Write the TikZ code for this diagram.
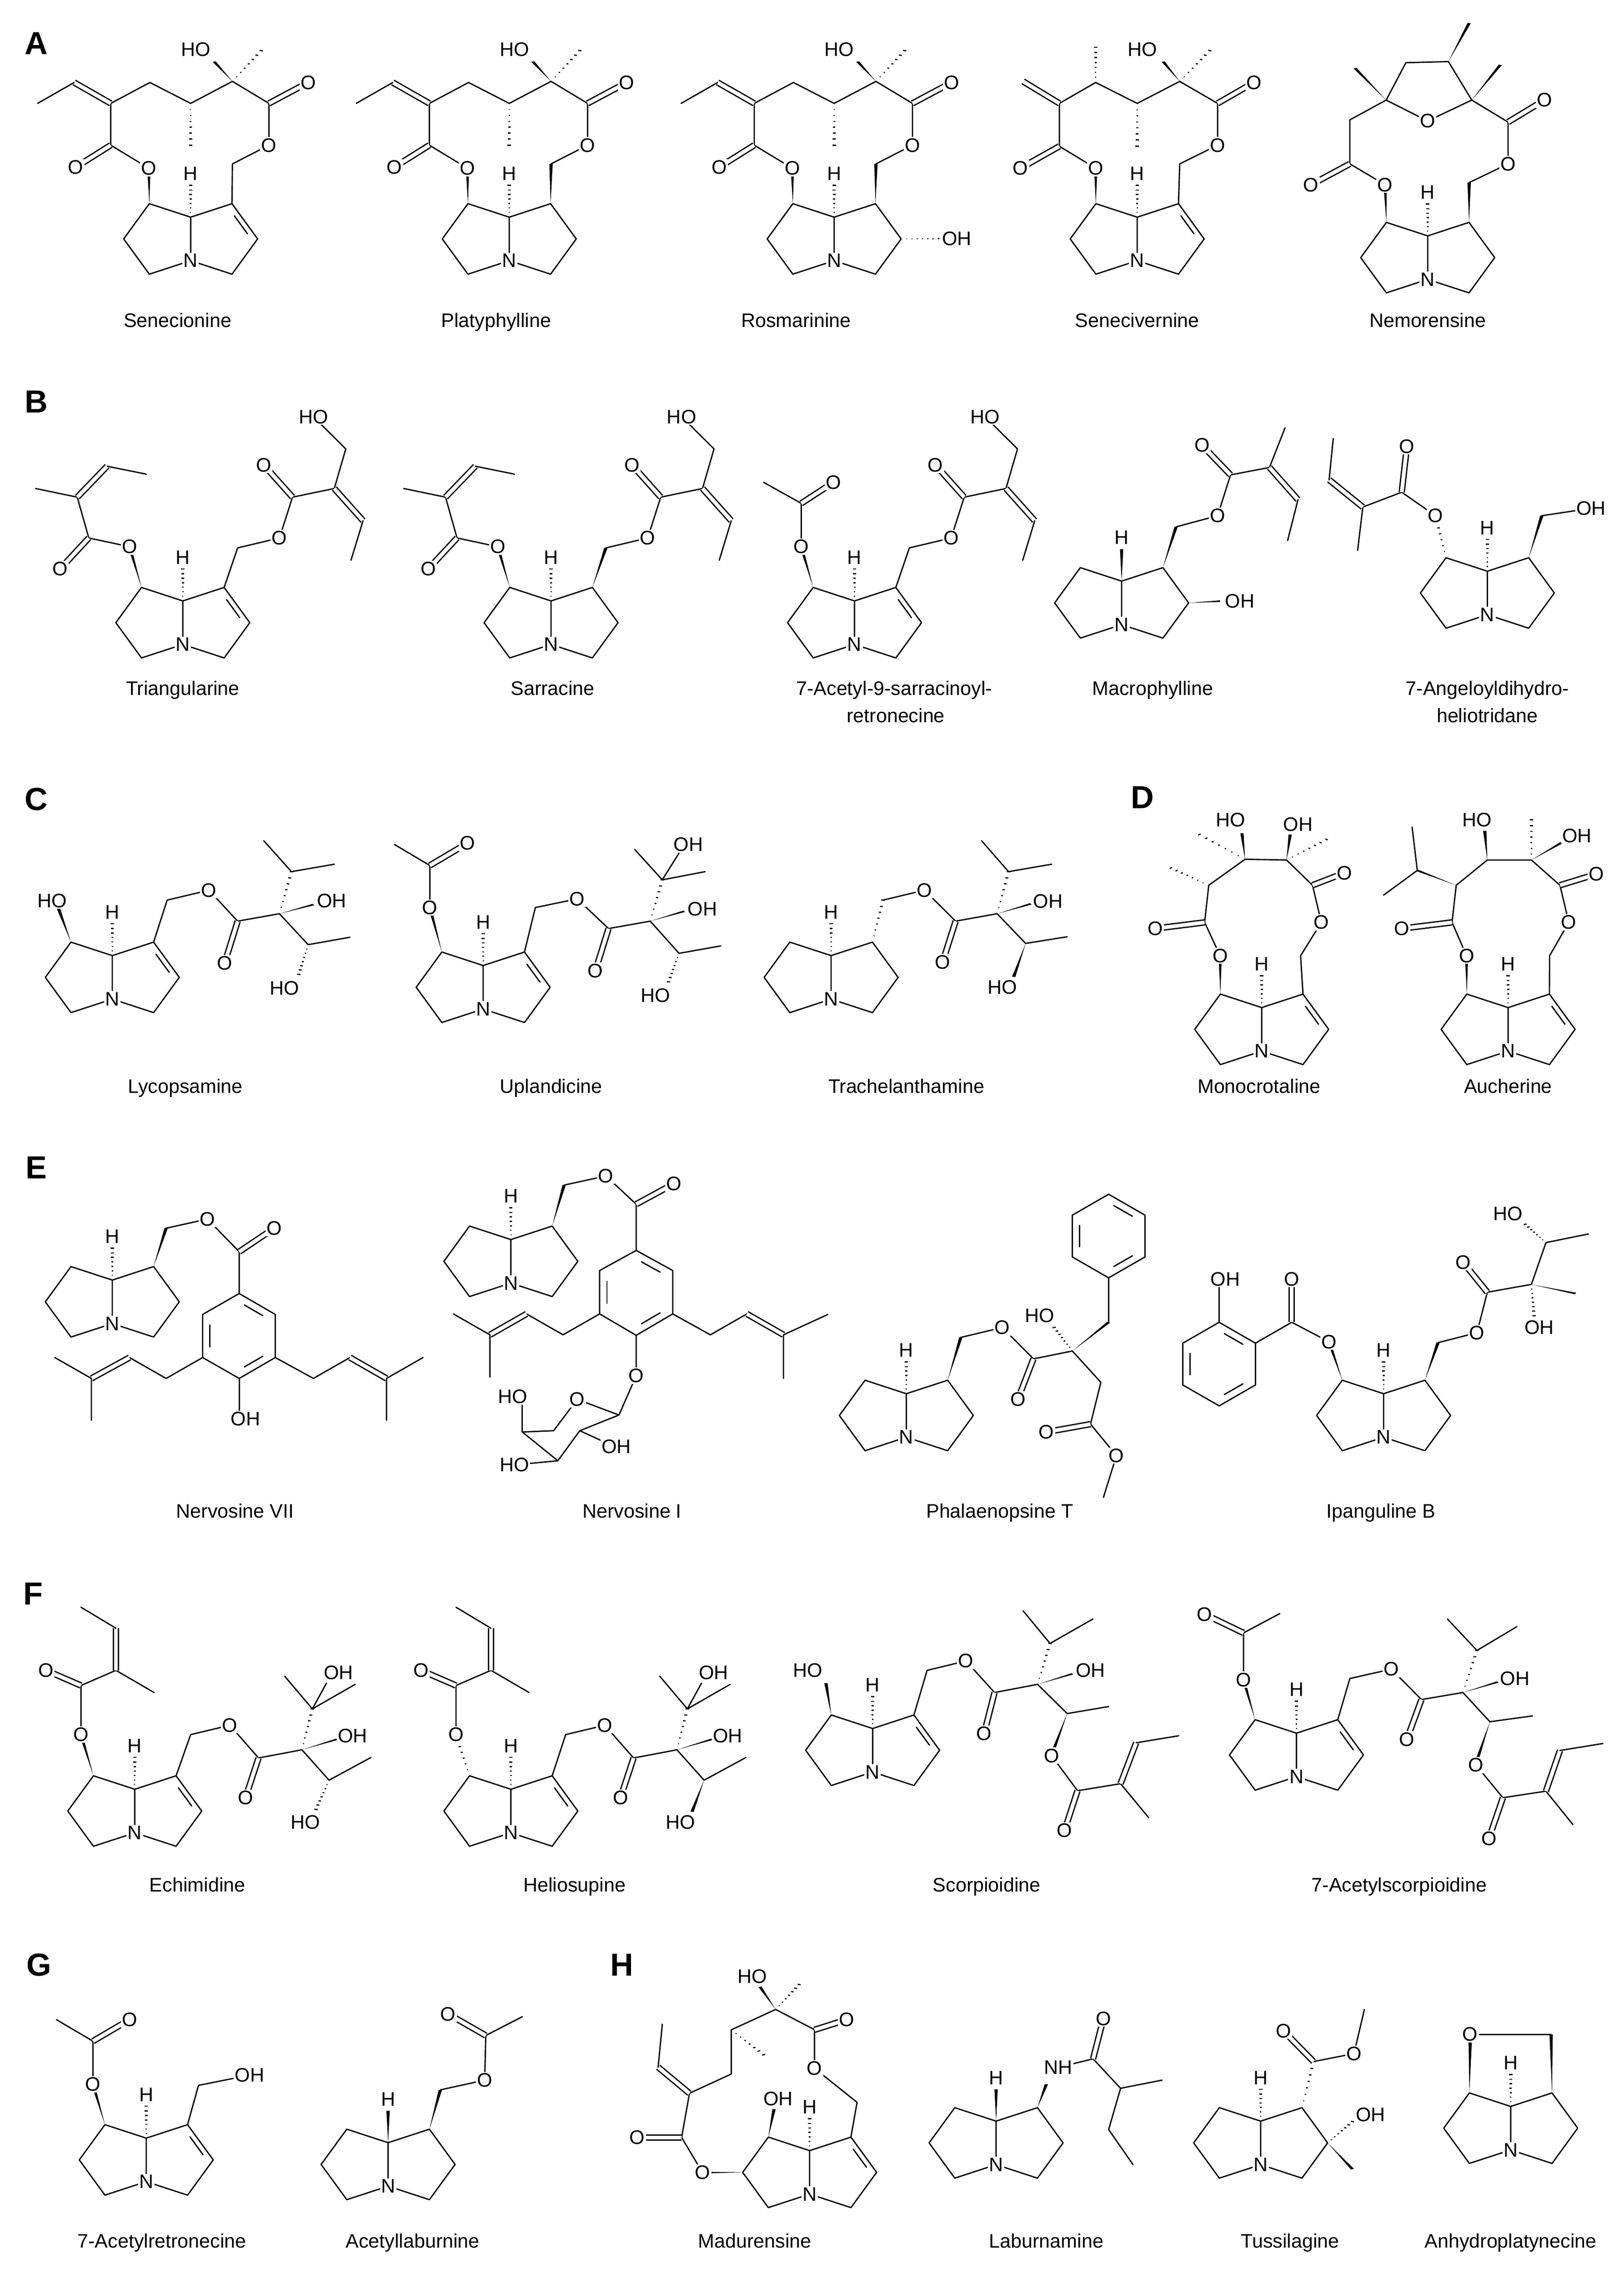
\documentclass[tikz,border=0pt]{standalone}
\usepackage{fontspec}
\setmainfont{Liberation Sans}
\usetikzlibrary{calc}
\tikzset{
 bond/.style={line width=0.9pt,line join=round,line cap=round},
 dbl/.style={line width=0.9pt,double,double distance=2.6pt},
 atom/.style={fill=white,inner sep=0.8pt,font=\fontsize{13.5}{13.5}\selectfont},
 lbl/.style={font=\fontsize{13.5}{16}\selectfont,align=center,text height=10pt,text depth=3pt},
 sec/.style={font=\fontsize{22}{22}\selectfont\bfseries}}
\newcommand\wdg[2]{\fill ($#1$) -- ($#2!3.2pt!90:#1$) -- ($#2!3.2pt!-90:#1$) -- cycle;}
\newcommand\hsh[2]{\foreach \hq [evaluate=\hq as \hw using 0.5+\hq*2.8] in {0.15,0.29,0.43,0.57,0.71,0.85,1}{\draw[line width=0.8pt] ($#1!\hq!#2!\hw pt!90:#1$) -- ($#1!\hq!#2!\hw pt!-90:#1$);}}
\newcommand\inr[3]{\draw[bond] ($#1!.18!#2!.2!#3$) -- ($#2!.18!#1!.2!#3$);}
\newcommand\core[3]{%
\begin{scope}[reset cm,shift={(#1)}]
\coordinate (cN) at (0,0);\coordinate (c8) at (0,-30);\coordinate (c7) at (-28.5,-39.3);\coordinate (c6) at (-46.2,-15);\coordinate (c5) at (-28.5,9.3);\coordinate (c1) at (28.5,-39.3);\coordinate (c2) at (46.2,-15);\coordinate (c3) at (28.5,9.3);\coordinate (cR) at (24,-15);\coordinate (cH) at (0,-52);\coordinate (cHl) at (0,-60);
\end{scope}
\draw[bond] (c8)--(c7)--(c6)--(c5)--(cN)--(c3)--(c2)--(c1)--(c8)--(cN);
\ifnum#2=1 \inr{(c1)}{(c2)}{(cR)}\fi
\ifnum#3=1 \hsh{(c8)}{(cH)}\node[atom] at (cHl){H};\fi
\ifnum#3=2 \wdg{(c8)}{(cH)}\node[atom] at (cHl){H};\fi
\node[atom] at (cN){N};}
\newcommand\senskel{%
\wdg{(c7)}{(285,765)}
\draw[bond] (285,765)--(212,660)--(212,470)--(287,375)--(365,470)--(445,370)--(515,470)--(515,660)--(445,745);
\draw[dbl] (212,660)--(145,760);
\draw[dbl] (212,470)--(142,375); \draw[bond] (142,375)--(72,470);
\hsh{(365,470)}{(365,660)}
\wdg{(445,370)}{(410,280)}
\hsh{(445,370)}{(500,230)}
\draw[dbl] (515,470)--(590,375);
\node[atom] at (285,765) {O}; \node[atom] at (145,760) {O}; \node[atom] at (590,375){O}; \node[atom] at (515,660){O}; \node[atom] at (375,225){HO};}
\newcommand\Bang{%
\draw[bond] (248,815)--(170,780)--(148,615)--(68,580); \draw[dbl] (170,780)--(115,905); \draw[dbl](148,615)--(205,490); \draw[bond](205,490)--(280,522);
\node[atom] at (248,815){O}; \node[atom] at (115,905){O};}
\newcommand\Bsar{%
\draw[bond] (455,820)--(535,780)--(560,615)--(640,580)--(662,420)--(600,290); \draw[dbl](560,615)--(505,485); \draw[dbl](640,580)--(695,710); \draw[bond](695,710)--(672,870);
\node[atom] at (535,780){O}; \node[atom] at (505,485){O}; \node[atom] at (600,290){HO};}
\begin{document}
\begin{tikzpicture}[x=1pt,y=-1pt]
\useasboundingbox[fill=white] (0,0) rectangle (1120,1568);
\node[sec] (sA) at (25,30){A};
\node[sec] (sB) at (25,277){B};
\node[sec] (sC) at (25,551){C};
\node[sec] (sD) at (788,550){D};
\node[sec] (sE) at (25,805){E};
\node[sec] (sF) at (23,1099){F};
\node[sec] (sG) at (27,1355){G};
\node[sec] (sH) at (429,1355){H};
% ---------- Z1
\begin{scope}[xscale=0.36027,yscale=0.15169]
\coordinate (n) at (365,1185); \core{n}{1}{1} \senskel \draw[bond] (445,745)--(c1);
\node[lbl] (l1) at (340,1465){Senecionine};
\begin{scope}[shift={(610,0)}]\coordinate (n) at (365,1185); \core{n}{0}{1} \senskel \wdg{(c1)}{(445,745)}\end{scope}
\node[lbl] (l2) at (950,1465){Platyphylline};
\begin{scope}[shift={(1232,0)}]\coordinate (n) at (365,1185); \core{n}{0}{1} \senskel \wdg{(c1)}{(445,745)} \hsh{(c2)}{(565,1085)} \node[atom] at (600,1085){OH};\end{scope}
\node[lbl] (l3) at (1524,1465){Rosmarinine};
\end{scope}
% ---------- Z2
\begin{scope}[shift={(558.96,0)},xscale=0.35781,yscale=0.15169]
\coordinate (n) at (630,1185); \core{n}{1}{1}
\wdg{(c7)}{(550,765)}
\draw[bond] (550,765)--(480,665)--(480,470)--(550,375)--(630,470)--(712,370)--(785,470)--(785,660)--(712,745)--(c1);
\draw[dbl] (480,665)--(405,765); \draw[dbl] (480,470)--(410,370);
\hsh{(550,375)}{(550,215)} \hsh{(630,470)}{(630,665)}
\wdg{(712,370)}{(680,280)} \hsh{(712,370)}{(770,230)}
\draw[dbl] (785,470)--(855,375);
\node[atom] at (550,765){O}; \node[atom] at (405,765){O}; \node[atom] at (640,225){HO}; \node[atom] at (855,375){O}; \node[atom] at (785,660){O};
\node[lbl] (l4) at (630,1465){Senecivernine};
\coordinate (n) at (1190,1270); \core{n}{0}{1}
\wdg{(c7)}{(1108,840)}
\draw[bond] (1108,840)--(1040,745)--(1040,545)--(1110,455)--(1148,285)--(1230,280)--(1275,455)--(1345,555)--(1345,745)--(1270,830);
\draw[bond] (1110,455)--(1190,550)--(1275,455);
\draw[dbl] (1040,745)--(965,840); \draw[dbl] (1345,555)--(1415,455);
\wdg{(1110,455)}{(1050,310)} \wdg{(1230,280)}{(1270,105)} \wdg{(1275,455)}{(1330,295)}
\wdg{(c1)}{(1270,830)}
\node[atom] at (1108,840){O}; \node[atom] at (965,840){O}; \node[atom] at (1190,550){O}; \node[atom] at (1415,455){O}; \node[atom] at (1345,745){O};
\node[lbl] (l5) at (1190,1465){Nemorensine};
\end{scope}
% ---------- Z3
\begin{scope}[shift={(0,237.86)},xscale=0.36027,yscale=0.17066]
\coordinate (n) at (350,1210); \core{n}{1}{1}
\wdg{(c7)}{(248,815)} \Bang \draw[bond] (c1)--(455,820); \Bsar
\node[lbl] (l6) at (350,1395){Triangularine};
\begin{scope}[shift={(705,0)}]\coordinate (n) at (350,1210); \core{n}{0}{1}
\wdg{(c7)}{(248,815)} \Bang \wdg{(c1)}{(455,820)} \Bsar\end{scope}
\node[lbl] (l7) at (1058,1395){Sarracine};
\begin{scope}[shift={(1286,0)}]\coordinate (n) at (350,1210); \core{n}{1}{1}
\wdg{(c7)}{(248,815)} \draw[bond] (248,815)--(248,640)--(176,555); \draw[dbl] (248,640)--(310,555);
\node[atom] at (248,815){O}; \node[atom] at (310,555){O};
\draw[bond] (c1)--(455,820); \Bsar\end{scope}
\node[lbl] (l8) at (1712,1395){7-Acetyl-9-sarracinoyl-};
\node[lbl] (l8b) at (1715,1505){retronecine};
\end{scope}
% ---------- Z4
\begin{scope}[shift={(558.96,237.86)},xscale=0.35781,yscale=0.17066]
\coordinate (n) at (600,1130); \core{n}{0}{2}
\wdg{(c1)}{(705,735)} \draw[bond](705,735)--(785,690)--(810,525)--(885,495)--(915,335); \draw[dbl](810,525)--(755,405); \draw[dbl](885,495)--(940,625); \draw[bond](940,625)--(920,790);
\wdg{(c2)}{(790,1035)}
\node[atom] at (785,690){O}; \node[atom] at (755,405){O}; \node[atom] at (828,1035){OH};
\node[lbl] (l9) at (660,1395){Macrophylline};
\coordinate (n) at (1305,1090); \core{n}{0}{1}
\hsh{(c7)}{(1205,690)}
\draw[bond](1205,690)--(1140,595)--(1065,655)--(1055,830); \draw[dbl](1140,595)--(1150,410); \draw[dbl](1065,655)--(1000,545); \draw[bond](1000,545)--(1008,378);
\wdg{(c1)}{(1410,690)} \draw[bond](1410,690)--(1505,660);
\node[atom] at (1205,690){O}; \node[atom] at (1150,410){O}; \node[atom] at (1505,660){OH};
\node[lbl] (l10) at (1305,1395){7-Angeloyldihydro-};
\node[lbl] (l10b) at (1305,1505){heliotridane};
\end{scope}
% ---------- Z5
\begin{scope}[shift={(0,499.49)},xscale=0.36027,yscale=0.17066]
\coordinate (n) at (215,1110); \core{n}{1}{1}
\wdg{(c7)}{(112,745)}
\draw[bond](c1)--(320,710)--(400,670)--(455,795)--(535,765)--(590,890)--(670,860); \draw[dbl](455,795)--(430,965);
\wdg{(535,765)}{(600,728)} \hsh{(535,765)}{(558,595)} \draw[bond](505,470)--(558,595)--(640,565);
\hsh{(590,890)}{(572,1010)}
\node[atom] at (100,712){HO}; \node[atom] at (400,670){O}; \node[atom] at (430,965){O}; \node[atom] at (635,712){OH}; \node[atom] at (545,1065){HO};
\node[lbl] (l11) at (355,1470){Lycopsamine};
\coordinate (n) at (925,1150); \core{n}{1}{1}
\wdg{(c7)}{(823,740)} \draw[bond](823,740)--(823,570)--(755,485); \draw[dbl](823,570)--(895,480);
\draw[bond](c1)--(1025,740)--(1105,705)--(1165,825)--(1245,795)--(1300,925)--(1380,895); \draw[dbl](1165,825)--(1140,995);
\wdg{(1245,795)}{(1310,755)} \hsh{(1245,795)}{(1268,628)} \draw[bond](1215,505)--(1268,628)--(1350,595); \draw[bond](1268,628)--(1300,520);
\hsh{(1300,925)}{(1280,1040)}
\node[atom] at (823,740){O}; \node[atom] at (895,480){O}; \node[atom] at (1105,705){O}; \node[atom] at (1140,995){O}; \node[atom] at (1345,745){OH}; \node[atom] at (1318,485){OH}; \node[atom] at (1255,1095){HO};
\node[lbl] (l12) at (1055,1470){Uplandicine};
\end{scope}
% ---------- Z6
\begin{scope}[shift={(558.96,499.49)},xscale=0.35781,yscale=0.17066]
\coordinate (n) at (40,1110); \core{n}{0}{1}
\hsh{(c1)}{(140,710)} \draw[bond](140,710)--(220,670)--(280,795)--(360,765)--(415,885)--(495,858); \draw[dbl](280,795)--(255,960);
\wdg{(360,765)}{(425,725)} \hsh{(360,765)}{(382,595)} \draw[bond](330,470)--(382,595)--(465,565);
\wdg{(415,885)}{(392,1020)}
\node[atom] at (220,670){O}; \node[atom] at (255,960){O}; \node[atom] at (458,715){OH}; \node[atom] at (370,1062){HO};
\node[lbl] (l13) at (185,1470){Trachelanthamine};
\coordinate (n) at (870,1320); \core{n}{1}{1}
\wdg{(c7)}{(790,935)} \draw[bond](790,935)--(760,800)--(768,650)--(838,545)--(918,548)--(968,650)--(985,800)--(945,935)--(c1);
\draw[dbl](760,800)--(665,825); \draw[dbl](968,650)--(1030,600);
\hsh{(768,650)}{(695,580)} \wdg{(838,545)}{(832,440)} \hsh{(838,545)}{(750,445)} \wdg{(918,548)}{(925,445)} \hsh{(918,548)}{(995,465)}
\node[atom] at (790,935){O}; \node[atom] at (665,825){O}; \node[atom] at (810,385){HO}; \node[atom] at (940,405){OH}; \node[atom] at (1030,600){O}; \node[atom] at (985,800){O};
\node[lbl] (l14) at (865,1470){Monocrotaline};
\coordinate (n) at (1345,1320); \core{n}{1}{1}
\wdg{(c7)}{(1265,935)} \draw[bond](1265,935)--(1237,800)--(1245,650)--(1305,548)--(1390,548)--(1445,650)--(1462,800)--(1425,935)--(c1);
\draw[dbl](1237,800)--(1140,825); \draw[dbl](1445,650)--(1515,605);
\wdg{(1245,650)}{(1170,590)} \draw[bond](1160,415)--(1170,590)--(1105,690);
\wdg{(1305,548)}{(1300,430)} \hsh{(1390,548)}{(1390,385)} \wdg{(1390,548)}{(1448,478)}
\node[atom] at (1265,935){O}; \node[atom] at (1140,825){O}; \node[atom] at (1285,385){HO}; \node[atom] at (1478,450){OH}; \node[atom] at (1515,605){O}; \node[atom] at (1462,800){O};
\node[lbl] (l15) at (1345,1470){Aucherine};
\end{scope}
% ---------- Z7
\begin{scope}[shift={(0,773.03)},xscale=0.36027,yscale=0.18014]
\coordinate (n) at (215,775); \core{n}{0}{1}
\wdg{(c1)}{(318,410)} \draw[bond](318,410)--(397,375)--(458,500)--(458,660); \draw[dbl](458,500)--(525,410);
\draw[bond](458,660)--(527,740)--(527,905)--(458,985)--(388,905)--(388,740)--cycle;
\coordinate (bz) at (458,822); \inr{(458,660)}{(527,740)}{(bz)} \inr{(527,905)}{(458,985)}{(bz)} \inr{(388,905)}{(388,740)}{(bz)}
\draw[bond](388,905)--(318,985)--(248,905); \draw[dbl](248,905)--(175,985); \draw[bond](105,905)--(175,985)--(175,1145);
\draw[bond](527,905)--(600,985)--(670,905); \draw[dbl](670,905)--(740,985); \draw[bond](810,905)--(740,985)--(740,1145);
\draw[bond](458,985)--(458,1120);
\node[atom] at (397,375){O}; \node[atom] at (525,410){O}; \node[atom] at (470,1140){OH};
\node[lbl] (l16) at (450,1500){Nervosine VII};
\coordinate (n) at (978,620); \core{n}{0}{1}
\wdg{(c1)}{(1080,245)} \draw[bond](1080,245)--(1160,210)--(1218,318)--(1218,495); \draw[dbl](1218,318)--(1290,240);
\draw[bond](1218,495)--(1288,572)--(1288,738)--(1218,820)--(1148,738)--(1148,572)--cycle;
\coordinate (bz) at (1218,658); \inr{(1218,495)}{(1288,572)}{(bz)} \inr{(1288,738)}{(1218,820)}{(bz)} \inr{(1148,738)}{(1148,572)}{(bz)}
\draw[bond](1148,738)--(1078,818)--(1008,738); \draw[dbl](1008,738)--(938,818); \draw[bond](868,738)--(938,818)--(938,980);
\draw[bond](1288,738)--(1360,818)--(1430,738); \draw[dbl](1430,738)--(1500,818); \draw[bond](1585,740)--(1500,818)--(1500,985);
\draw[bond](1218,820)--(1218,975)--(1185,1125);
\draw[bond](1185,1125)--(1105,1065)--(1060,1185)--(1000,1190)--(1068,1300)--(1110,1185)--cycle;
\draw[bond](1000,1190)--(1000,1075); \draw[bond](1110,1185)--(1170,1240); \draw[bond](1068,1300)--(990,1315);
\node[atom] at (1160,210){O}; \node[atom] at (1290,240){O}; \node[atom] at (1218,975){O}; \node[atom] at (1105,1065){O}; \node[atom] at (982,1055){HO}; \node[atom] at (1180,1245){OH}; \node[atom] at (985,1315){HO};
\node[lbl] (l17) at (1210,1500){Nervosine I};
\end{scope}
% ---------- Z8
\begin{scope}[shift={(558.96,773.03)},xscale=0.35781,yscale=0.18014]
\coordinate (n) at (185,1210); \core{n}{0}{1}
\wdg{(c1)}{(290,828)} \draw[bond](290,828)--(370,790)--(430,910)--(505,880)--(560,1000)--(540,1160)--(590,1280)--(565,1440); \draw[dbl](430,910)--(400,1065); \draw[dbl](540,1160)--(455,1190);
\hsh{(505,880)}{(470,790)} \wdg{(505,880)}{(575,770)} \draw[bond](575,770)--(575,600);
\draw[bond](575,600)--(645,520)--(645,360)--(575,280)--(505,360)--(505,520)--cycle;
\coordinate (bz) at (575,440); \inr{(575,280)}{(645,360)}{(bz)} \inr{(645,520)}{(575,600)}{(bz)} \inr{(505,520)}{(505,360)}{(bz)}
\node[atom] at (370,790){O}; \node[atom] at (400,1065){O}; \node[atom] at (442,745){HO}; \node[atom] at (455,1190){O}; \node[atom] at (590,1280){O};
\node[lbl] (l18) at (365,1500){Phalaenopsine T};
\coordinate (n) at (1105,1210); \core{n}{0}{1}
\wdg{(c7)}{(1000,845)} \draw[bond](1000,845)--(928,770)--(858,850); \draw[dbl](928,770)--(928,605);
\draw[bond](858,850)--(858,1010)--(788,1090)--(718,1010)--(718,850)--(788,770)--cycle;
\coordinate (bz) at (788,930); \inr{(788,770)}{(858,850)}{(bz)} \inr{(718,850)}{(718,1010)}{(bz)} \inr{(788,1090)}{(858,1010)}{(bz)}
\draw[bond](788,770)--(788,625);
\wdg{(c1)}{(1210,848)} \draw[bond](1210,848)--(1285,810)--(1305,655)--(1390,625)--(1418,465)--(1500,432); \draw[dbl](1305,655)--(1258,540);
\wdg{(1390,625)}{(1475,660)} \hsh{(1390,625)}{(1395,745)} \hsh{(1418,465)}{(1378,395)}
\node[atom] at (1000,845){O}; \node[atom] at (928,605){O}; \node[atom] at (800,605){OH}; \node[atom] at (1285,810){O}; \node[atom] at (1258,540){O}; \node[atom] at (1405,790){OH}; \node[atom] at (1345,355){HO};
\node[lbl] (l19) at (1100,1500){Ipanguline B};
\end{scope}
% ---------- Z9
\begin{scope}[shift={(0,1070.35)},xscale=0.36027,yscale=0.16117]
\coordinate (n) at (258,1200); \core{n}{1}{1}
\wdg{(c7)}{(155,780)} \draw[bond](155,780)--(155,570)--(222,505)--(295,600); \draw[dbl](155,570)--(88,505); \draw[dbl](222,505)--(222,325); \draw[bond](222,325)--(155,235);
\draw[bond](c1)--(365,780)--(440,740)--(495,880)--(578,845)--(630,975)--(710,878); \draw[dbl](495,880)--(470,1050);
\wdg{(578,845)}{(645,800)} \hsh{(578,845)}{(598,670)} \draw[bond](545,530)--(598,670)--(680,565); \draw[bond](598,670)--(625,560);
\hsh{(630,975)}{(605,1100)}
\node[atom] at (155,780){O}; \node[atom] at (88,505){O}; \node[atom] at (440,740){O}; \node[atom] at (470,1050){O}; \node[atom] at (675,785){OH}; \node[atom] at (648,515){OH}; \node[atom] at (585,1155){HO};
\node[lbl] (l20) at (378,1430){Echimidine};
\coordinate (n) at (978,1200); \core{n}{1}{1}
\hsh{(c7)}{(873,780)}
\draw[bond](873,780)--(873,570)--(940,505)--(1013,600); \draw[dbl](873,570)--(806,505); \draw[dbl](940,505)--(940,325); \draw[bond](940,325)--(873,235);
\draw[bond](c1)--(1083,780)--(1158,740)--(1213,880)--(1296,845)--(1348,975)--(1428,878); \draw[dbl](1213,880)--(1188,1050);
\wdg{(1296,845)}{(1363,800)} \hsh{(1296,845)}{(1316,670)} \draw[bond](1263,530)--(1316,670)--(1398,565); \draw[bond](1316,670)--(1343,560);
\wdg{(1348,975)}{(1325,1110)}
\node[atom] at (873,780){O}; \node[atom] at (806,505){O}; \node[atom] at (1158,740){O}; \node[atom] at (1188,1050){O}; \node[atom] at (1393,785){OH}; \node[atom] at (1366,515){OH}; \node[atom] at (1303,1155){HO};
\node[lbl] (l21) at (1100,1430){Heliosupine};
\end{scope}
% ---------- Z10
\begin{scope}[shift={(558.96,1070.35)},xscale=0.35781,yscale=0.16117]
\coordinate (n) at (120,940); \core{n}{1}{1}
\wdg{(c7)}{(30,560)}
\draw[bond](c1)--(225,505)--(300,465)--(355,600)--(438,565)--(495,690)--(575,660); \draw[dbl](355,600)--(335,775);
\wdg{(438,565)}{(505,520)} \hsh{(438,565)}{(462,390)} \draw[bond](410,250)--(462,390)--(545,285);
\wdg{(495,690)}{(468,850)} \draw[bond](465,870)--(515,1020)--(598,990)--(652,1135); \draw[dbl](515,1020)--(490,1190); \draw[dbl](598,990)--(628,815); \draw[bond](628,815)--(710,785);
\node[atom] at (-5,505){HO}; \node[atom] at (300,465){O}; \node[atom] at (335,775){O}; \node[atom] at (540,505){OH}; \node[atom] at (465,870){O}; \node[atom] at (490,1190){O};
\node[lbl] (l22) at (340,1430){Scorpioidine};
\coordinate (n) at (937,960); \core{n}{1}{1}
\wdg{(c7)}{(835,545)} \draw[bond](835,545)--(835,345)--(905,262); \draw[dbl](835,345)--(760,265);
\draw[bond](c1)--(1040,540)--(1120,500)--(1178,630)--(1258,600)--(1310,725)--(1392,700); \draw[dbl](1178,630)--(1150,800);
\wdg{(1258,600)}{(1325,555)} \hsh{(1258,600)}{(1285,420)} \draw[bond](1228,285)--(1285,420)--(1362,318);
\wdg{(1310,725)}{(1285,890)} \draw[bond](1283,910)--(1335,1050)--(1418,1022)--(1470,1165); \draw[dbl](1335,1050)--(1308,1225); \draw[dbl](1418,1022)--(1445,848); \draw[bond](1445,848)--(1528,818);
\node[atom] at (835,545){O}; \node[atom] at (760,265){O}; \node[atom] at (1120,500){O}; \node[atom] at (1150,800){O}; \node[atom] at (1358,540){OH}; \node[atom] at (1283,910){O}; \node[atom] at (1308,1225){O};
\node[lbl] (l23) at (1135,1430){7-Acetylscorpioidine};
\end{scope}
% ---------- Z11
\begin{scope}[shift={(0,1323.07)},xscale=0.36027,yscale=0.15624]
\coordinate (n) at (280,1160); \core{n}{1}{1}
\wdg{(c7)}{(178,730)} \draw[bond](178,730)--(178,540)--(108,445); \draw[dbl](178,540)--(248,445);
\draw[bond](c1)--(380,735)--(478,690);
\node[atom] at (178,730){O}; \node[atom] at (248,445){O}; \node[atom] at (478,690){OH};
\node[lbl] (l24) at (310,1430){7-Acetylretronecine};
\coordinate (n) at (743,1180); \core{n}{0}{2}
\wdg{(c1)}{(843,755)} \draw[bond](843,755)--(928,712)--(930,515)--(1000,432); \draw[dbl](930,515)--(858,420);
\node[atom] at (928,712){O}; \node[atom] at (858,420){O};
\node[lbl] (l25) at (790,1430){Acetyllaburnine};
\coordinate (n) at (1550,1215); \core{n}{1}{1}
\wdg{(c7)}{(1482,840)} \wdg{(c6)}{(1360,1120)}
\draw[bond](1345,1120)--(1305,965)--(1320,770)--(1400,685)--(1400,490)--(1485,400)--(1560,490); \draw[dbl](1305,965)--(1220,965); \draw[dbl](1320,770)--(1260,655); \draw[bond](1260,655)--(1268,465);
\hsh{(1400,490)}{(1462,600)} \wdg{(1485,400)}{(1455,300)} \hsh{(1485,400)}{(1530,290)}
\node[atom] at (1345,1120){O}; \node[atom] at (1220,965){O}; \node[atom] at (1490,795){OH}; \node[atom] at (1440,255){HO};
\node[lbl] (l26) at (1445,1430){Madurensine};
\end{scope}
% ---------- Z12
\begin{scope}[shift={(558.96,1323.07)},xscale=0.35781,yscale=0.15624]
\draw[bond](8,490)--(8,660)--(90,810)--(c1); \draw[dbl](8,490)--(70,445);
\node[atom] at (70,445){O}; \node[atom] at (8,660){O};
\coordinate (n) at (358,1085); \core{n}{0}{2}
\wdg{(c1)}{(455,730)} \draw[bond](470,660)--(545,618)--(598,748)--(678,712); \draw[bond](598,748)--(575,930)--(622,1085); \draw[dbl](545,618)--(565,440);
\node[atom] at (478,655){NH}; \node[atom] at (565,440){O};
\node[lbl] (l27) at (455,1430){Laburnamine};
\coordinate (n) at (868,1085); \core{n}{0}{1}
\hsh{(c1)}{(970,630)} \draw[bond](970,630)--(1048,595)--(1068,400); \draw[dbl](970,630)--(912,495);
\hsh{(c2)}{(1045,895)} \wdg{(c2)}{(1045,1105)}
\node[atom] at (912,495){O}; \node[atom] at (1048,595){O}; \node[atom] at (1080,865){OH};
\node[lbl] (l28) at (925,1430){Tussilagine};
\coordinate (n) at (1350,1020); \core{n}{0}{1}
\wdg{(c7)}{(1272,540)} \wdg{(c1)}{(1428,510)} \draw[bond](1272,510)--(1428,510);
\node[atom] at (1272,510){O};
\node[lbl] (l29) at (1350,1430){Anhydroplatynecine};
\end{scope}
\end{tikzpicture}
\end{document}
